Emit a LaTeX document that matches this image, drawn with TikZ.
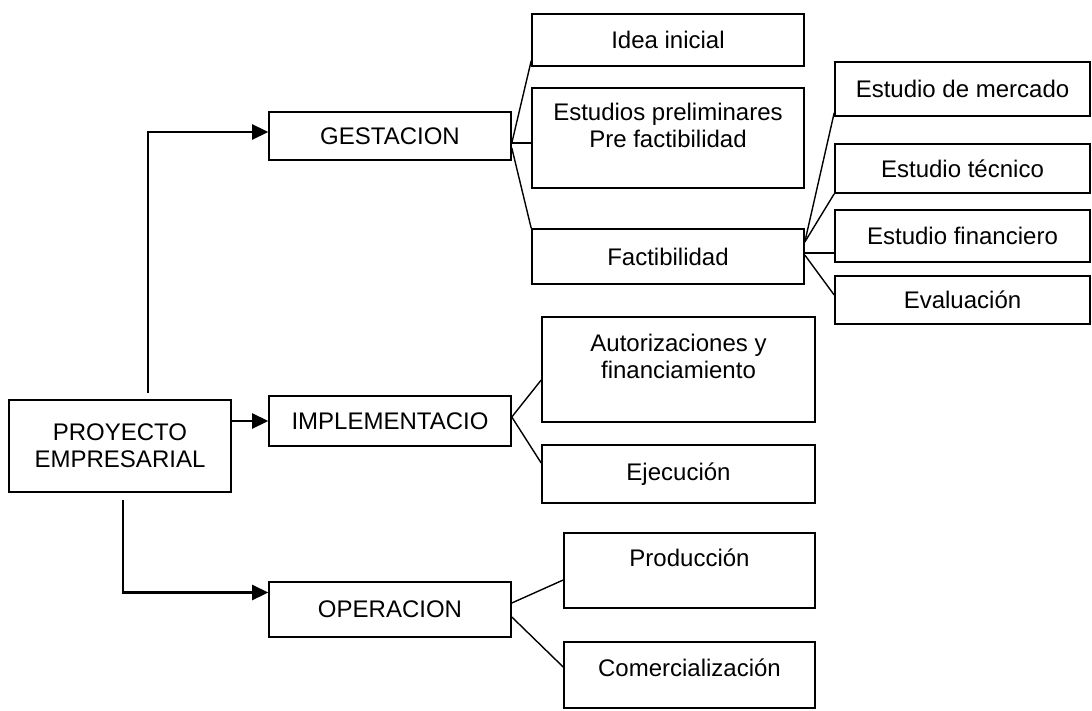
\documentclass[tikz,border=0pt]{standalone}
\usepackage{fontspec}
\setmainfont{Liberation Sans}
\usetikzlibrary{arrows.meta,calc}
\begin{document}
\begin{tikzpicture}[x=1pt,y=-1pt,
  box/.style={draw,line width=1.6pt,rectangle,inner sep=0pt,align=center,
    font=\fontsize{24}{27}\selectfont},
  txt/.style={inner sep=0pt,align=center,font=\fontsize{24}{27}\selectfont,anchor=base},
  arr/.style={line width=2.6pt,-{Triangle[length=16pt,width=15pt]}},
  con/.style={line width=1.4pt}]
\useasboundingbox (0,0) rectangle (1092,711);
% main boxes
\node[box,minimum width=222pt,minimum height=92pt] (proy) at (120,446) {PROYECTO\\EMPRESARIAL};
\node[box,minimum width=242pt,minimum height=48pt] (gest) at (390,136) {GESTACION};
\node[box,minimum width=242pt,minimum height=50pt] (impl) at (390,421) {IMPLEMENTACIO};
\node[box,minimum width=242pt,minimum height=55pt] (oper) at (390,609.5) {OPERACION};
% gestacion children
\node[box,minimum width=272pt,minimum height=52pt] (idea) at (668,40) {Idea inicial};
\node[box,minimum width=272pt,minimum height=100pt] (prel) at (668,138) {};
\node[txt] (prelT) at (668,148) {Estudios preliminares\\Pre factibilidad};
\node[box,minimum width=272pt,minimum height=55pt] (fact) at (668,256.5) {Factibilidad};
% factibilidad children
\node[box,minimum width=255pt,minimum height=54pt] (merc) at (962.5,89) {Estudio de mercado};
\node[box,minimum width=255pt,minimum height=49pt] (tecn) at (962.5,168.5) {Estudio técnico};
\node[box,minimum width=255pt,minimum height=52pt] (fina) at (962.5,236) {Estudio financiero};
\node[box,minimum width=255pt,minimum height=48pt] (eval) at (962.5,300) {Evaluación};
% implementacion children
\node[box,minimum width=273pt,minimum height=105pt] (auto) at (678.5,369.5) {};
\node[txt] (autoT) at (678.5,378) {Autorizaciones y\\financiamiento};
\node[box,minimum width=273pt,minimum height=58pt] (ejec) at (678.5,474) {Ejecución};
% operacion children
\node[box,minimum width=251pt,minimum height=75pt] (prod) at (689.5,570.5) {};
\node[txt] (prodT) at (689.5,566) {Producción};
\node[box,minimum width=251pt,minimum height=66pt] (come) at (689.5,675) {};
\node[txt] (comeT) at (689.5,676) {Comercialización};
% arrows from proyecto
\draw[arr] ($(proy.north)+(28,-6)$) |- ($(gest.west)+(0,-4)$);
\draw[arr] (proy.east |- impl.west) -- (impl.west);
\draw[arr] ($(proy.south)+(3,7)$) |- ($(oper.west)+(0,-17)$);
% gestacion connectors
\draw[con] ($(gest.east)+(0,7)$) -- ($(idea.south west)+(0,-6)$);
\draw[con] ($(gest.east)+(0,7)$) -- ($(prel.west)+(0,5)$);
\draw[con] ($(gest.east)+(0,12)$) -- (fact.north west);
% factibilidad connectors
\draw[con] ($(fact.east)+(0,-14.5)$) -- ($(merc.south west)+(0,-4)$);
\draw[con] ($(fact.east)+(0,-14.5)$) -- (tecn.south west);
\draw[con] ($(fact.east)+(0,-3.5)$) -- ($(fina.west)+(0,17)$);
\draw[con] ($(fact.east)+(0,-1.5)$) -- ($(eval.west)+(0,-5)$);
% implementacion connectors
\draw[con] ($(impl.east)+(0,-4)$) -- ($(auto.west)+(0,10.5)$);
\draw[con] ($(impl.east)+(0,-4)$) -- ($(ejec.west)+(0,-11)$);
% operacion connectors
\draw[con] ($(oper.east)+(0,-6.5)$) -- ($(prod.west)+(0,9.5)$);
\draw[con] ($(oper.east)+(0,7.5)$) -- ($(come.west)+(0,-8)$);
\end{tikzpicture}
\end{document}
